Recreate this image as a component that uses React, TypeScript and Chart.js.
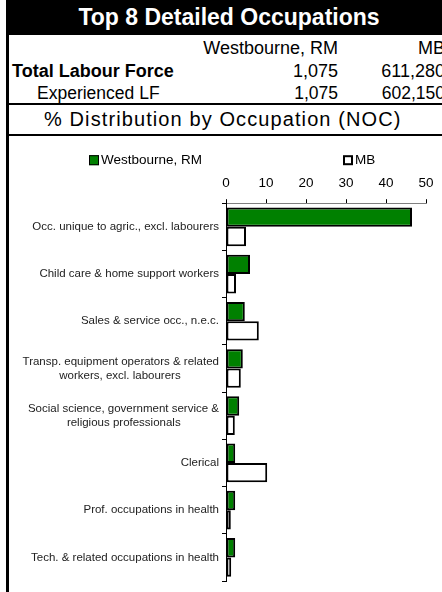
import React, { useEffect, useRef } from "react";
import { Chart, registerables } from "chart.js";

Chart.register(...registerables);

const categories: (string | string[])[] = [
  "Occ. unique to agric., excl. labourers",
  "Child care & home support workers",
  "Sales & service occ., n.e.c.",
  ["Transp. equipment operators & related", "workers, excl. labourers"],
  ["Social science, government service &", "religious professionals"],
  "Clerical",
  "Prof. occupations in health",
  "Tech. & related occupations in health",
];
const seriesNames = ["Westbourne, RM", "MB"];
const westbourneValues = [46.5, 6.0, 4.7, 4.2, 3.3, 2.3, 2.3, 2.3];
const mbValues = [5.0, 2.5, 8.2, 3.7, 2.2, 10.3, 1.2, 1.3];
const xTickMin = 0;
const xTickMax = 50;
const xTickStep = 10;

const tableTitle = "Top 8 Detailed Occupations";
const tableColumns = ["Westbourne, RM", "MB"];
const tableRowLabels = ["Total Labour Force", "Experienced LF"];
const totalLabourForce = ["1,075", "611,280"];
const experiencedLF = ["1,075", "602,150"];
const chartSubtitle = "% Distribution by Occupation (NOC)";

const FONT = "'Liberation Sans', Arial, Helvetica, sans-serif";

const legendPlugin = {
  id: "spreadLegend",
  afterDraw(chart: any) {
    const { ctx, chartArea } = chart;
    const y = chartArea.top - 43;
    const xs = [chartArea.left - 137, chartArea.left + 117];
    chart.data.datasets.forEach((ds: any, i: number) => {
      const x = xs[i];
      ctx.save();
      ctx.fillStyle = ds.backgroundColor;
      ctx.fillRect(x, y - 5, 10, 10);
      ctx.strokeStyle = "#000";
      const lw = i === 0 ? 1 : 2;
      ctx.lineWidth = lw;
      ctx.strokeRect(x + lw / 2, y - 5 + lw / 2, 10 - lw, 10 - lw);
      ctx.fillStyle = "#000";
      ctx.font = `13.5px ${FONT}`;
      ctx.textBaseline = "middle";
      ctx.textAlign = "left";
      ctx.fillText(ds.label, x + 12, y);
      ctx.restore();
    });
  },
};

export default function App() {
  const canvasRef = useRef<HTMLCanvasElement | null>(null);

  useEffect(() => {
    if (!canvasRef.current) return;
    const labelFontSize = 11.5;
    const measureCtx = document.createElement("canvas").getContext("2d")!;
    measureCtx.font = `${labelFontSize}px ${FONT}`;
    const spaceW = measureCtx.measureText(" ").width;

    const chart = new Chart(canvasRef.current, {
      type: "bar",
      data: {
        labels: categories as any,
        datasets: [
          {
            label: seriesNames[0],
            data: westbourneValues,
            backgroundColor: "#008000",
            borderColor: "#000000",
            borderWidth: 2,
            borderSkipped: false,
            categoryPercentage: 0.82,
            barPercentage: 1.0,
          },
          {
            label: seriesNames[1],
            data: mbValues,
            backgroundColor: "#ffffff",
            borderColor: "#000000",
            borderWidth: 2,
            borderSkipped: false,
            categoryPercentage: 0.82,
            barPercentage: 1.0,
          },
        ],
      },
      plugins: [legendPlugin],
      options: {
        indexAxis: "y",
        animation: false,
        responsive: false,
        maintainAspectRatio: false,
        layout: { padding: { top: 31, right: 16, bottom: 11, left: 0 } },
        plugins: {
          tooltip: { enabled: false },
          legend: { display: false },
        },
        scales: {
          x: {
            position: "top",
            min: xTickMin,
            max: xTickMax,
            ticks: {
              stepSize: xTickStep,
              color: "#000",
              padding: 8,
              font: { family: FONT, size: 13.5 },
            },
            grid: {
              drawOnChartArea: false,
              drawTicks: true,
              tickLength: 4,
              color: "#000",
            },
            border: { display: true, color: "#808080", width: 1 },
          },
          y: {
            ticks: {
              autoSkip: false,
              color: "#222",
              padding: 3,
              font: { family: FONT, size: labelFontSize },
              callback: function (_v: any, index: number) {
                const lab = categories[index];
                if (Array.isArray(lab)) {
                  const widths = lab.map((l) => measureCtx.measureText(l).width);
                  const maxW = Math.max(...widths);
                  return lab.map((l, i) => {
                    const n = Math.round((maxW - widths[i]) / 2 / spaceW);
                    return l + " ".repeat(n);
                  });
                }
                return lab;
              },
            },
            grid: {
              drawOnChartArea: false,
              drawTicks: true,
              tickLength: 4,
              color: "#000",
            },
            border: { display: true, color: "#000", width: 1 },
            afterFit: (scale: any) => {
              scale.width = 217;
            },
          },
        },
      },
    });
    return () => chart.destroy();
  }, []);

  const rowStyle = (top: number, h: number, fs: number): React.CSSProperties => ({
    position: "absolute",
    top,
    left: 0,
    width: 460,
    height: h,
    lineHeight: `${h}px`,
    fontSize: fs,
    color: "#000",
    whiteSpace: "nowrap",
  });

  return (
    <div
      style={{
        position: "absolute",
        left: 0,
        top: 0,
        width: 442,
        height: 592,
        overflow: "hidden",
        background: "#fff",
        fontFamily: FONT,
      }}
    >
      <div
        style={{
          position: "absolute",
          left: 6,
          top: 0,
          width: 446,
          height: 35,
          background: "#000",
          color: "#fff",
          fontWeight: "bold",
          fontSize: 23,
          lineHeight: "35px",
          textAlign: "center",
          whiteSpace: "nowrap",
        }}
      >
        {tableTitle}
      </div>
      <div style={rowStyle(37, 22, 18)}>
        <span style={{ position: "absolute", right: 460 - 338 }}>{tableColumns[0]}</span>
        <span style={{ position: "absolute", right: 460 - 445 }}>{tableColumns[1]}</span>
      </div>
      <div style={rowStyle(60, 22, 18)}>
        <span style={{ position: "absolute", left: 12, fontWeight: "bold" }}>{tableRowLabels[0]}</span>
        <span style={{ position: "absolute", right: 460 - 338 }}>{totalLabourForce[0]}</span>
        <span style={{ position: "absolute", right: 460 - 445 }}>{totalLabourForce[1]}</span>
      </div>
      <div style={rowStyle(82, 22, 17.5)}>
        <span style={{ position: "absolute", left: 37 }}>{tableRowLabels[1]}</span>
        <span style={{ position: "absolute", right: 460 - 338 }}>{experiencedLF[0]}</span>
        <span style={{ position: "absolute", right: 460 - 445 }}>{experiencedLF[1]}</span>
      </div>
      <div style={{ position: "absolute", left: 6, top: 103, width: 446, height: 2, background: "#000" }} />
      <div
        style={{
          position: "absolute",
          left: 44,
          top: 105,
          height: 29,
          lineHeight: "29px",
          fontSize: 20,
          letterSpacing: 1.1,
          whiteSpace: "nowrap",
          color: "#000",
        }}
      >
        {chartSubtitle}
      </div>
      <div style={{ position: "absolute", left: 6, top: 134, width: 446, height: 2, background: "#000" }} />
      <div style={{ position: "absolute", left: 6, top: 0, width: 3, height: 592, background: "#000" }} />
      <canvas
        ref={canvasRef}
        width={433}
        height={456}
        style={{ position: "absolute", left: 9, top: 136, width: 433, height: 456 }}
      />
    </div>
  );
}
